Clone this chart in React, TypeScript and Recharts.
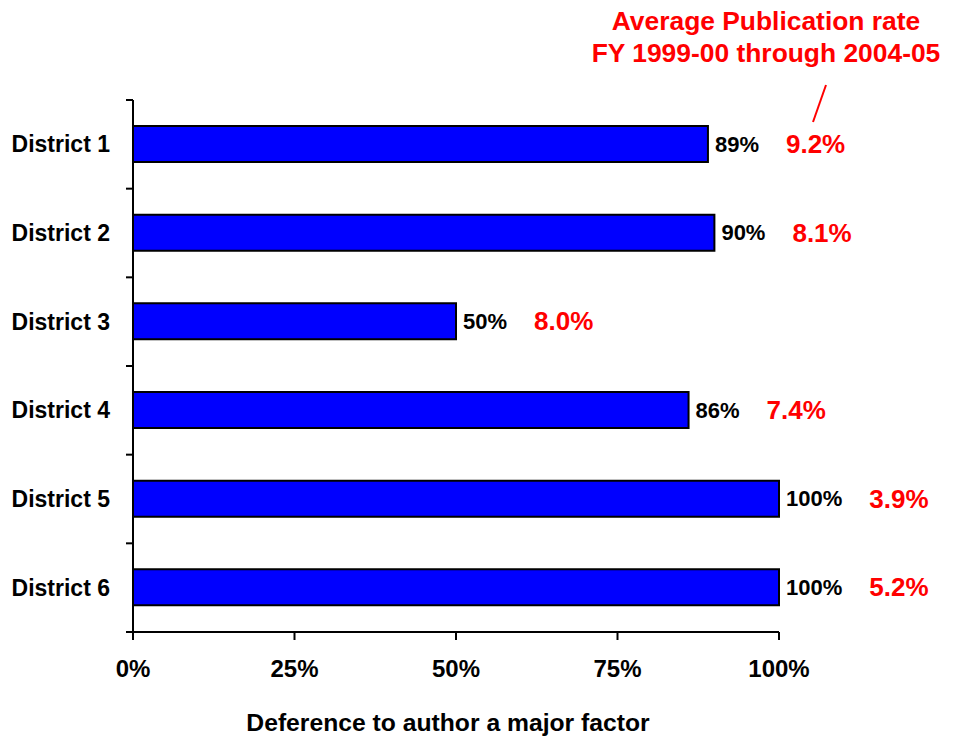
import { BarChart, Bar, XAxis, YAxis, LabelList } from "recharts";

const districts = ["District 1", "District 2", "District 3", "District 4", "District 5", "District 6"];
const deference = [89, 90, 50, 86, 100, 100];
const pubRate = ["9.2%", "8.1%", "8.0%", "7.4%", "3.9%", "5.2%"];
const xTicks = [0, 25, 50, 75, 100];

const data = districts.map((name, i) => ({ name, deference: deference[i], rate: pubRate[i] }));

const FONT = "Arial, 'Liberation Sans', sans-serif";
const PLOT_TOP = 100;
const PLOT_BOTTOM = 632;
const HALF_BAND = (PLOT_BOTTOM - PLOT_TOP) / districts.length / 2;

// rough Arial Bold advance widths, used to place the red labels after the black ones
const textWidth = (s: string, size: number) =>
  s.split("").reduce((w, ch) => w + (ch === "%" ? 0.889 : ch === "." ? 0.278 : 0.556), 0) * size;

const CategoryTick = (props: any) => {
  const { x, y, payload, index } = props;
  return (
    <g>
      <line x1={x - 7} x2={x} y1={y - HALF_BAND} y2={y - HALF_BAND} stroke="#000" strokeWidth={2} />
      {index === districts.length - 1 && (
        <line x1={x - 7} x2={x} y1={y + HALF_BAND} y2={y + HALF_BAND} stroke="#000" strokeWidth={2} />
      )}
      <text x={x - 23} y={y + 8} textAnchor="end" fontFamily={FONT} fontWeight="bold" fontSize={23} fill="#000">
        {payload.value}
      </text>
    </g>
  );
};

const PercentTick = (props: any) => {
  const { x, y, payload } = props;
  return (
    <text x={x} y={y + 37} textAnchor="middle" fontFamily={FONT} fontWeight="bold" fontSize={24} fill="#000">
      {`${payload.value}%`}
    </text>
  );
};

const RateLabel = (props: any) => {
  const { x, y, width, height, value, index } = props;
  const black = `${deference[index ?? 0]}%`;
  const lx = x + width + 7 + textWidth(black, 22) + 27;
  return (
    <text x={lx} y={y + height / 2 + 9} fontFamily={FONT} fontWeight="bold" fontSize={26} fill="#FF0000">
      {value}
    </text>
  );
};

export default function App() {
  return (
    <div style={{ position: "absolute", left: 0, top: 0, width: 958, height: 736, background: "#fff" }}>
      <BarChart
        width={958}
        height={736}
        data={data}
        layout="vertical"
        margin={{ top: PLOT_TOP, right: 179, left: 8, bottom: 44 }}
      >
        <XAxis
          type="number"
          domain={[0, 100]}
          ticks={xTicks}
          interval={0}
          height={60}
          axisLine={{ stroke: "#000", strokeWidth: 2 }}
          tickLine={{ stroke: "#000", strokeWidth: 2 }}
          tickSize={8}
          tickMargin={0}
          tick={<PercentTick />}
        />
        <YAxis
          type="category"
          dataKey="name"
          width={125}
          axisLine={{ stroke: "#000", strokeWidth: 2 }}
          tickLine={false}
          tickSize={0}
          tickMargin={0}
          interval={0}
          tick={<CategoryTick />}
        />
        <Bar dataKey="deference" fill="#0000FF" stroke="#000" strokeWidth={2} barSize={36} isAnimationActive={false}>
          <LabelList
            dataKey="deference"
            position="right"
            offset={7}
            formatter={(v: any) => `${v}%`}
            fill="#000"
            fontFamily={FONT}
            fontWeight="bold"
            fontSize={22}
          />
          <LabelList dataKey="rate" content={<RateLabel />} />
        </Bar>
      </BarChart>
      <svg width={958} height={736} style={{ position: "absolute", left: 0, top: 0, pointerEvents: "none" }}>
        <text x={766} y={30} textAnchor="middle" fontFamily={FONT} fontWeight="bold" fontSize={26.4} fill="#FF0000">
          Average Publication rate
        </text>
        <text x={766} y={62} textAnchor="middle" fontFamily={FONT} fontWeight="bold" fontSize={26.4} fill="#FF0000">
          FY 1999-00 through 2004-05
        </text>
        <line x1={826} y1={85} x2={813} y2={122} stroke="#FF0000" strokeWidth={2} />
        <text x={448} y={731} textAnchor="middle" fontFamily={FONT} fontWeight="bold" fontSize={24.7} fill="#000">
          Deference to author a major factor
        </text>
      </svg>
    </div>
  );
}
